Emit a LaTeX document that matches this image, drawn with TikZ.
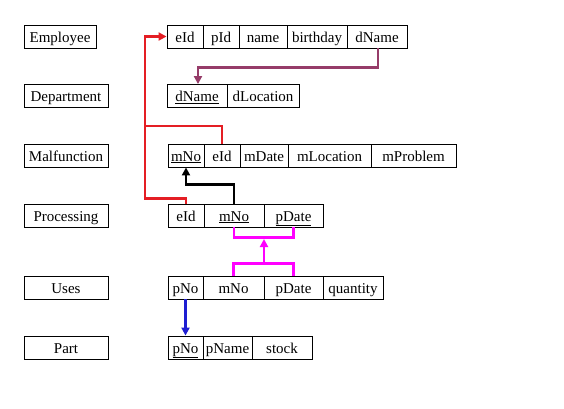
\documentclass[tikz,border=0pt]{standalone}
\usepackage{fontspec}
\setmainfont{Liberation Serif}
\usetikzlibrary{arrows.meta}
\definecolor{cred}{RGB}{228,30,36}
\definecolor{cpurp}{RGB}{150,60,105}
\definecolor{cmag}{RGB}{255,0,255}
\definecolor{cblue}{RGB}{30,30,210}
\begin{document}
\begin{tikzpicture}[x=1pt,y=-1pt,
  cell/.style={draw=black,line width=0.9pt,rectangle,inner sep=0pt,minimum height=23pt,text height=12.5pt,text depth=1.5pt,font=\fontsize{15}{17}\selectfont},
  conn/.style={line width=2.2pt,-{Triangle[length=8pt,width=8pt]}},
  plain/.style={line width=2.2pt}]
\useasboundingbox[fill=white] (0,0) rectangle (564,408);
% labels
\node[cell,minimum width=72pt] (lemp) at (60,36.5) {Employee};
\node[cell,minimum width=84pt] (ldep) at (66,96) {Department};
\node[cell,minimum width=84pt] (lmal) at (66,155.5) {Malfunction};
\node[cell,minimum width=84pt] (lpro) at (66,215.5) {Processing};
\node[cell,minimum width=84pt] (luse) at (66,287.5) {Uses};
\node[cell,minimum width=84pt] (lpar) at (66,347.5) {Part};
% Employee
\node[cell,minimum width=36pt] (eeid) at (185,36.5) {eId};
\node[cell,minimum width=36pt] (epid) at (221,36.5) {pId};
\node[cell,minimum width=48pt] (ename) at (263,36.5) {name};
\node[cell,minimum width=60pt] (ebirth) at (317,36.5) {birthday};
\node[cell,minimum width=60pt] (edname) at (377,36.5) {dName};
% Department
\node[cell,minimum width=60pt] (ddname) at (197,96) {\underline{dName}};
\node[cell,minimum width=72pt] (dloc) at (263,96) {dLocation};
% Malfunction
\node[cell,minimum width=36pt] (mmno) at (186,155.5) {\underline{mNo}};
\node[cell,minimum width=36pt] (meid) at (222,155.5) {eId};
\node[cell,minimum width=48pt] (mdate) at (264,155.5) {mDate};
\node[cell,minimum width=83pt] (mloc) at (329.5,155.5) {mLocation};
\node[cell,minimum width=85pt] (mprob) at (413.5,155.5) {mProblem};
% Processing
\node[cell,minimum width=36pt] (peid) at (186,215.5) {eId};
\node[cell,minimum width=60pt] (pmno) at (234,215.5) {\underline{mNo}};
\node[cell,minimum width=59pt] (ppdate) at (293.5,215.5) {\underline{pDate}};
% Uses
\node[cell,minimum width=35pt] (upno) at (185.5,287.5) {pNo};
\node[cell,minimum width=61pt] (umno) at (233.5,287.5) {mNo};
\node[cell,minimum width=59pt] (update) at (293.5,287.5) {pDate};
\node[cell,minimum width=60pt] (uqty) at (353,287.5) {quantity};
% Part
\node[cell,minimum width=35pt] (tpno) at (185.5,347.5) {\underline{pNo}};
\node[cell,minimum width=49pt] (tpname) at (227.5,347.5) {pName};
\node[cell,minimum width=60pt] (tstock) at (282,347.5) {stock};
% connectors
\coordinate (rx) at (145,126);
\coordinate (mbot) at (264,263);
\coordinate (mtop) at (264,239);
\draw[conn,cpurp] ([xshift=1pt]edname.south) -- ++(0,19) -| ([xshift=1pt]ddname.north);
\draw[conn,cred] (meid.north) |- (rx) |- (eeid.west);
\draw[plain,cred] (peid.north) -- ++(0,-5) -| (rx);
\draw[conn,black] (pmno.north) -- ++(0,-19) -| (mmno.south);
\draw[plain,cmag] (pmno.south) -- ++(0,10) -| (ppdate.south);
\draw[plain,cmag] (umno.north) -- ++(0,-12) -| (update.north);
\draw[conn,cmag] (mbot) -- (mtop);
\draw[conn,cblue] (upno.south) -- (tpno.north);
\end{tikzpicture}
\end{document}
